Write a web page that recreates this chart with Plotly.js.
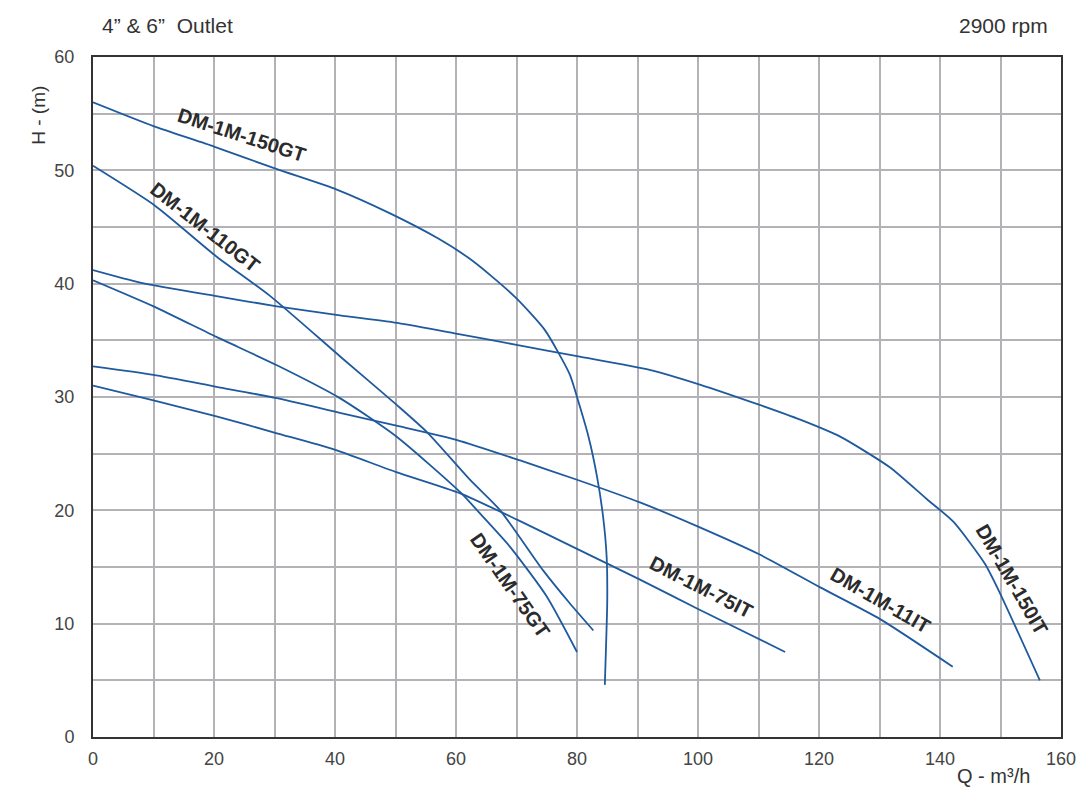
<!DOCTYPE html>
<html>
<head>
<meta charset="utf-8">
<script src="https://cdn.plot.ly/plotly-3.0.1.min.js"></script>
<style>html,body{margin:0;padding:0;background:#fff;}#chart{width:1087px;height:787px;}</style>
</head>
<body>
<div id="chart"></div>
<script>
// ---- data ----
const q150GT = [0, 10, 20, 30.4, 40.3, 49.1, 57, 62, 66, 70, 74.7, 78.8, 80, 81.9, 83.3, 84.3, 84.9, 85, 84.8, 84.6];
const h150GT = [56.0, 53.9, 52.1, 50.1, 48.3, 46.2, 44.0, 42.3, 40.6, 38.7, 35.9, 32.0, 30.0, 26.5, 23.0, 19.5, 15.9, 12.0, 8.0, 4.6];

const q150IT = [0, 7.8, 20.4, 30.4, 40.8, 50.7, 60, 70, 80, 92, 100.3, 110.2, 116.9, 123.5, 131.7, 137.8, 142.2, 147.4, 149.9, 156.5];
const h150IT = [41.2, 40.1, 38.9, 38.0, 37.2, 36.5, 35.6, 34.6, 33.6, 32.4, 31.1, 29.3, 28.0, 26.5, 23.8, 21.0, 19.0, 15.3, 12.7, 5.0];

const q110GT = [0, 10.2, 20.4, 29.3, 40.8, 50.2, 55.2, 62.3, 67.3, 74.4, 78.8, 82.7];
const h110GT = [50.4, 46.9, 42.4, 38.9, 33.6, 29.3, 26.9, 22.7, 20.0, 14.7, 11.8, 9.4];

const q75GT = [0, 10, 20.4, 30.4, 40.8, 50.2, 60.7, 64, 68.9, 75, 80];
const h75GT = [40.3, 38.0, 35.3, 32.8, 29.9, 26.5, 21.6, 19.7, 16.8, 12.4, 7.5];

const q11IT = [0, 10, 20.4, 30.4, 40.8, 50.7, 60.2, 70.6, 80, 90.4, 100.3, 110.2, 120.2, 130.1, 142.1];
const h11IT = [32.7, 31.95, 30.9, 29.9, 28.6, 27.4, 26.2, 24.4, 22.7, 20.7, 18.5, 16.1, 13.2, 10.4, 6.2];

const q75IT = [0, 10, 20.4, 30.4, 39.7, 50, 60.7, 70, 80, 90, 100, 114.4];
const h75IT = [31.0, 29.7, 28.3, 26.8, 25.4, 23.4, 21.5, 19.2, 16.6, 14.0, 11.3, 7.5];

const seriesNames = ["DM-1M-150GT", "DM-1M-150IT", "DM-1M-110GT", "DM-1M-75GT", "DM-1M-11IT", "DM-1M-75IT"];

// curve labels (text, Q, H, angle)
const labelText  = ["DM-1M-150GT", "DM-1M-110GT", "DM-1M-75GT", "DM-1M-75IT", "DM-1M-11IT", "DM-1M-150IT"];
const labelQ     = [24.6, 18.5, 68.9, 100.5, 130.1, 151.8];
const labelH     = [53.1, 45.0, 13.4, 13.2, 12.1, 13.9];
const labelAngle = [18, 38, 55, 27, 30, 60];

const xTickVals = [0, 20, 40, 60, 80, 100, 120, 140, 160];
const xTickText = ["0", "20", "40", "60", "80", "100", "120", "140", "160"];
const yTickVals = [0, 10, 20, 30, 40, 50, 60];
const yTickText = ["0", "10", "20", "30", "40", "50", "60"];

const titleLeft = "4\u201d & 6\u201d  Outlet";
const titleRight = "2900 rpm";
const xTitle = "Q - m\u00b3/h";
const yTitle = "H - (m)";

// ---- drawing ----
const lineColor = "#1f5a9e";
const font = "Liberation Sans, Arial, Helvetica, sans-serif";
const qs = [q150GT, q150IT, q110GT, q75GT, q11IT, q75IT];
const hs = [h150GT, h150IT, h110GT, h75GT, h11IT, h75IT];

const traces = qs.map((q, i) => ({
  type: "scatter", mode: "lines", name: seriesNames[i],
  x: q, y: hs[i],
  line: {color: lineColor, width: 1.8, shape: "spline", smoothing: 0.6},
  hoverinfo: "x+y+name"
}));

const gridColor = "#b3b3b7";
const annotations = labelText.map((t, i) => ({
  text: t, x: labelQ[i], y: labelH[i], xref: "x", yref: "y",
  showarrow: false, textangle: labelAngle[i], xanchor: "center", yanchor: "middle",
  font: {family: font, size: 20, color: "#2b2b2b", weight: "bold"}
}));
annotations.push(
  {text: titleLeft, xref: "paper", yref: "paper", x: 0.007, y: 1.047, xanchor: "left", yanchor: "middle", showarrow: false, font: {family: font, size: 21, color: "#333"}},
  {text: titleRight, xref: "paper", yref: "paper", x: 0.9886, y: 1.047, xanchor: "right", yanchor: "middle", showarrow: false, font: {family: font, size: 21, color: "#333"}},
  {text: xTitle, xref: "paper", yref: "paper", x: 0.93, y: -0.057, xanchor: "center", yanchor: "middle", showarrow: false, font: {family: font, size: 20, color: "#333"}},
  {text: yTitle, xref: "paper", yref: "paper", x: -0.0558, y: 0.915, xanchor: "center", yanchor: "middle", showarrow: false, textangle: -90, font: {family: font, size: 19, color: "#333"}}
);

const layout = {
  width: 1087, height: 787,
  margin: {l: 93, r: 26, t: 57, b: 50},
  paper_bgcolor: "#fff", plot_bgcolor: "#fff",
  showlegend: false,
  xaxis: {
    range: [0, 160], tickmode: "array", tickvals: xTickVals, ticktext: xTickText,
    showgrid: true, gridcolor: gridColor, gridwidth: 1.5,
    minor: {tickmode: "linear", tick0: 0, dtick: 10, showgrid: true, gridcolor: gridColor, gridwidth: 1.5},
    showline: true, linecolor: "#333", linewidth: 2, mirror: true, zeroline: false,
    ticks: "", ticklabelstandoff: 4,
    tickfont: {family: font, size: 18, color: "#444"}
  },
  yaxis: {
    range: [0, 60], tickmode: "array", tickvals: yTickVals, ticktext: yTickText,
    showgrid: true, gridcolor: gridColor, gridwidth: 1.5,
    minor: {tickmode: "linear", tick0: 0, dtick: 5, showgrid: true, gridcolor: gridColor, gridwidth: 1.5},
    showline: true, linecolor: "#333", linewidth: 2, mirror: true, zeroline: false,
    ticks: "", ticklabelstandoff: 13,
    tickfont: {family: font, size: 18, color: "#444"}
  },
  annotations: annotations
};

Plotly.newPlot("chart", traces, layout, {displayModeBar: false, staticPlot: false});
</script>
</body>
</html>
